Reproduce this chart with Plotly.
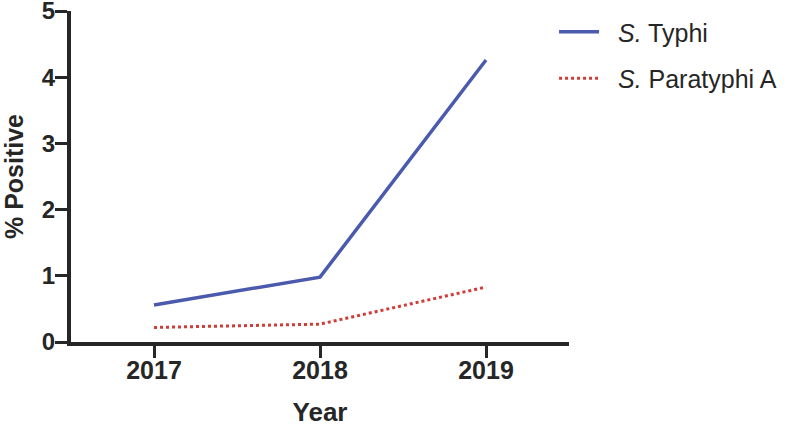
import plotly.graph_objects as go

years = ["2017", "2018", "2019"]
typhi = [0.56, 0.98, 4.26]
paratyphi = [0.22, 0.27, 0.83]
y_ticks = [0, 1, 2, 3, 4, 5]

x_idx = list(range(len(years)))

fig = go.Figure()
fig.add_trace(go.Scatter(
    x=x_idx, y=typhi, mode="lines", name="&nbsp;&nbsp;<i>S.</i> Typhi",
    line=dict(color="#4a5aad", width=3.5), legendgroup="a",
))
fig.add_trace(go.Scatter(
    x=x_idx, y=paratyphi, mode="lines", name="&nbsp;&nbsp;<i>S.</i> Paratyphi A",
    line=dict(color="#d23c36", width=3, dash="dot"), legendgroup="b",
))

axis_color = "#262626"
fig.update_layout(
    width=789, height=427,
    margin=dict(l=71, r=220, t=11, b=85, autoexpand=False),
    plot_bgcolor="white", paper_bgcolor="white",
    font=dict(family="Liberation Sans, Arial, sans-serif", color=axis_color),
    showlegend=True,
    legend=dict(
        x=0.970, y=1.006, xanchor="left", yanchor="top",
        font=dict(size=25, color="#262626"),
        traceorder="grouped", tracegroupgap=11,
        itemwidth=40, bgcolor="rgba(0,0,0,0)",
    ),
    xaxis=dict(
        range=[-0.5, 2.5], tickvals=x_idx, ticktext=years,
        showgrid=False, zeroline=False,
        showline=True, linecolor=axis_color, linewidth=4,
        ticks="outside", ticklen=12, tickwidth=3, tickcolor=axis_color,
        tickfont=dict(size=25, weight="bold", color=axis_color),
        ticklabeloverflow="allow", ticklabelstandoff=-9,
        title=dict(text="Year", font=dict(size=26, weight="bold", color=axis_color), standoff=31),
    ),
    yaxis=dict(
        range=[0, 5], tickvals=y_ticks,
        showgrid=False, zeroline=False,
        showline=True, linecolor=axis_color, linewidth=4,
        ticks="outside", ticklen=12, tickwidth=3, tickcolor=axis_color,
        tickfont=dict(size=24, weight="bold", color=axis_color),
        ticklabeloverflow="allow", ticklabelstandoff=-5,
        title=dict(text="% Positive", font=dict(size=25, weight="bold", color=axis_color), standoff=27),
    ),
)

fig.write_html("out.html", config={"displayModeBar": False},
               post_script="document.body.style.margin='0';")
